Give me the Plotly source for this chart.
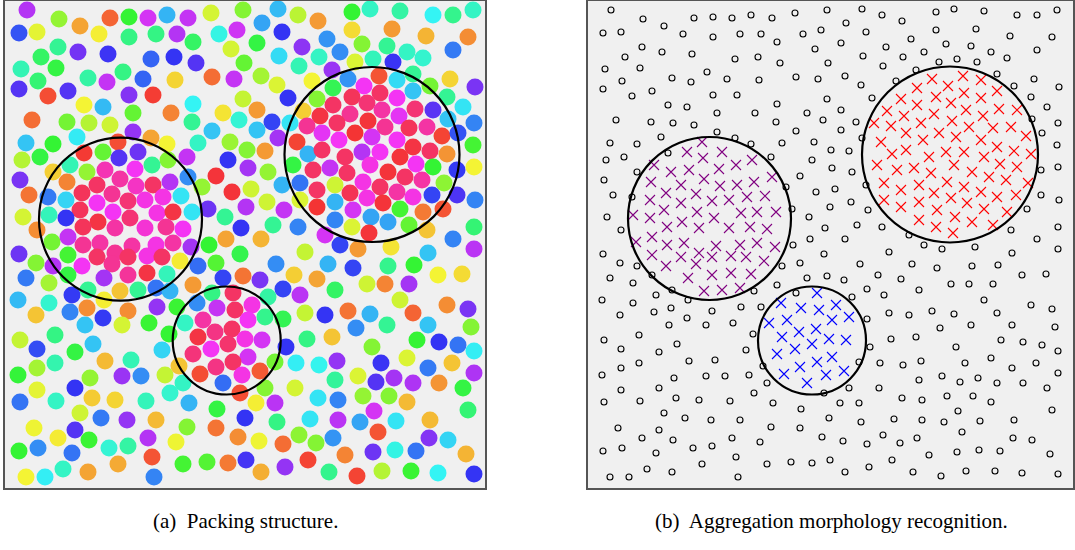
import numpy as np
import plotly.graph_objects as go

# Particle centres (shared by both panels) and their hue in degrees
x_pos = [
    27, 59, 80, 110, 129, 148, 19, 37, 99, 129, 156, 58, 41, 78, 108, 151, 21, 56, 88, 123,
    38, 107, 143, 19, 48, 68, 129, 153, 84, 103, 133, 32, 67, 89, 110, 133, 151, 26, 53, 77,
    118, 22, 40, 84, 103, 119, 138,
    167, 188, 211, 243, 278, 298, 318, 177, 193, 219, 237, 257, 262, 282, 231, 302, 174, 196, 244, 279,
    299, 319, 175, 212, 234, 261, 277, 312, 243, 288, 317, 193, 171, 223, 257, 303, 320, 192, 239, 272,
    290, 307, 212, 257, 278, 297, 167, 198, 230, 247, 265, 308, 187, 168, 228,
    352, 370, 400, 433, 453, 473, 352, 392, 426, 468, 327, 362, 387, 407, 453, 340, 355, 373, 393, 423,
    332, 348, 379, 397, 413, 450, 475, 333, 364, 380, 413, 430, 447, 352, 397, 333, 367, 382, 415, 433,
    463, 350, 368, 399, 337, 385, 409, 427, 448, 474, 322, 355, 372, 339, 397, 442, 458, 322, 362, 380,
    413, 430, 447, 473, 345, 400, 416,
    70, 53, 87, 105, 135, 152, 20, 67, 97, 120, 136, 153, 29, 48, 66, 82, 112, 128, 145, 97,
    49, 80, 113, 130, 157, 23, 66, 98, 83, 115, 145, 37, 52, 68, 83, 100, 132, 156, 115, 19,
    68, 36, 53, 97, 128, 147, 162, 82, 112, 26, 49, 68, 104, 128, 147, 18, 49, 72, 88, 104,
    120, 138, 156, 36, 70, 87, 103, 128, 157, 85, 122, 149,
    248, 268, 293, 313, 170, 188, 216, 202, 232, 251, 282, 300, 317, 163, 181, 208, 246, 267, 284, 300,
    317, 173, 192, 225, 241, 273, 298, 166, 183, 226, 261, 173, 191, 209, 240, 305, 180, 216, 198, 276,
    167, 223, 243, 260, 294, 317, 193, 212, 233, 268, 283, 300, 170, 197, 217, 235, 252, 283, 265, 305,
    325, 177, 203, 248, 185,
    330, 347, 370, 388, 405, 422, 433, 457, 474, 335, 363, 380, 397, 413, 444, 350, 432, 457, 475, 335,
    367, 383, 353, 400, 423, 443, 335, 371, 388, 352, 409, 427, 453, 474, 325, 369, 340, 358, 391, 474,
    428, 328, 353, 388, 414, 438, 462, 367, 385, 409, 335, 400, 348, 370, 413, 447, 468, 356, 387, 428,
    471,
    20, 55, 37, 75, 93, 162, 105, 131, 18, 37, 55, 90, 122, 141, 37, 75, 20, 56, 92, 115,
    146, 80, 101, 127, 156, 34, 75, 58, 89, 148, 19, 38, 72, 109, 128, 152, 26, 45, 63, 88,
    118, 154,
    169, 215, 232, 307, 198, 245, 262, 193, 211, 228, 248, 216, 233, 200, 242, 260, 223, 240, 275, 286,
    296, 319, 165, 179, 183, 170, 189, 265, 295, 256, 275, 318, 217, 245, 277, 310, 187, 216, 238, 259,
    283, 299, 316, 176, 183, 207, 228, 246, 261, 285, 308,
    332, 372, 417, 439, 458, 474, 337, 381, 407, 428, 452, 474, 335, 358, 376, 394, 413, 439, 463, 338,
    363, 389, 407, 468, 374, 338, 360, 396, 430, 378, 333, 429, 448, 345, 373, 395, 416, 466, 329, 357,
    382, 411, 438, 474,
]

y_pos = [
    10, 19, 26, 18, 17, 18, 33, 32, 34, 37, 34, 47, 57, 52, 54, 59, 69, 68, 78, 72,
    81, 82, 79, 89, 96, 91, 95, 95, 105, 107, 113, 120, 122, 123, 125, 132, 138, 143, 144, 137,
    142, 160, 157, 153, 152, 158, 152,
    15, 18, 13, 10, 9, 15, 21, 34, 42, 34, 30, 43, 23, 32, 49, 47, 57, 63, 63, 56,
    66, 57, 80, 77, 79, 76, 85, 81, 99, 98, 99, 104, 113, 113, 110, 111, 116, 122, 120, 122,
    123, 126, 131, 130, 138, 142, 144, 143, 142, 150, 151, 154, 157, 160, 160,
    12, 9, 11, 15, 15, 10, 30, 29, 36, 37, 39, 44, 46, 52, 50, 52, 62, 59, 62, 58,
    70, 79, 76, 80, 74, 79, 87, 88, 86, 93, 91, 86, 97, 97, 98, 105, 103, 110, 109, 110,
    107, 114, 121, 116, 123, 127, 128, 127, 119, 123, 133, 133, 137, 140, 140, 136, 133, 150, 152, 152,
    147, 151, 154, 145, 157, 157, 164,
    165, 172, 172, 170, 169, 165, 180, 182, 185, 179, 186, 185, 195, 197, 200, 193, 194, 201, 200, 203,
    215, 210, 212, 218, 213, 217, 218, 222, 227, 228, 228, 230, 242, 237, 245, 243, 246, 245, 253, 254,
    255, 263, 266, 257, 257, 256, 257, 266, 264, 278, 283, 275, 278, 275, 273, 300, 303, 295, 290, 300,
    291, 290, 288, 315, 312, 308, 318, 311, 307, 325, 325, 323,
    168, 172, 165, 170, 182, 177, 176, 187, 192, 189, 185, 183, 190, 197, 196, 209, 207, 202, 210, 200,
    207, 212, 212, 217, 228, 225, 227, 227, 229, 239, 239, 243, 247, 245, 254, 252, 261, 263, 266, 264,
    274, 278, 276, 280, 275, 279, 285, 293, 293, 297, 289, 295, 291, 303, 308, 310, 305, 319, 317, 313,
    315, 307, 320, 320, 323,
    168, 173, 165, 172, 177, 180, 167, 170, 167, 185, 182, 187, 192, 197, 183, 193, 195, 195, 200, 202,
    198, 203, 210, 209, 212, 209, 220, 217, 222, 227, 225, 230, 239, 227, 235, 233, 245, 249, 247, 249,
    253, 264, 268, 266, 265, 275, 274, 284, 284, 284, 290, 300, 311, 314, 313, 305, 309, 328, 325, 325,
    327,
    340, 335, 349, 352, 344, 350, 361, 360, 375, 368, 363, 378, 376, 376, 390, 388, 402, 401, 398, 400,
    401, 413, 418, 420, 420, 428, 430, 438, 440, 438, 451, 448, 453, 448, 446, 457, 477, 477, 469, 472,
    464, 477,
    334, 332, 329, 339, 337, 339, 340, 354, 349, 344, 357, 367, 362, 374, 375, 371, 383, 393, 362, 347,
    363, 365, 375, 366, 383, 393, 403, 388, 388, 403, 403, 398, 409, 418, 422, 419, 427, 428, 437, 441,
    444, 435, 443, 442, 464, 462, 463, 460, 472, 467, 460,
    337, 347, 340, 342, 345, 351, 361, 363, 358, 368, 363, 373, 380, 376, 382, 378, 383, 383, 388, 400,
    396, 396, 402, 410, 411, 420, 422, 421, 420, 432, 438, 438, 440, 455, 452, 450, 451, 454, 472, 476,
    471, 471, 473, 474,
]

hue = [
    280, 90, 35, 15, 120, 290, 230, 65, 58, 145, 145, 150, 135, 260, 243, 225, 160, 125, 155, 145,
    140, 285, 225, 250, 8, 250, 265, 3, 60, 198, 105, 18, 100, 80, 72, 270, 35, 195, 120, 183,
    8, 80, 125, 2, 105, 250, 258,
    200, 285, 70, 95, 198, 78, 32, 280, 135, 175, 288, 125, 205, 240, 70, 268, 240, 250, 105, 188,
    160, 165, 50, 18, 285, 85, 68, 60, 75, 240, 95, 180, 25, 55, 32, 48, 355, 150, 170, 235,
    185, 330, 195, 195, 275, 5, 60, 165, 88, 95, 32, 200, 285, 95, 240,
    120, 165, 155, 180, 148, 165, 52, 32, 40, 28, 210, 95, 150, 165, 218, 212, 68, 162, 242, 168,
    272, 210, 10, 188, 150, 50, 262, 130, 300, 345, 195, 100, 150, 348, 300, 345, 340, 325, 340, 252,
    185, 330, 358, 295, 345, 330, 348, 325, 195, 215, 295, 0, 290, 300, 300, 5, 230, 345, 280, 300,
    355, 345, 30, 115, 345, 358, 300,
    160, 48, 90, 320, 300, 150, 262, 25, 345, 325, 315, 345, 20, 218, 190, 348, 330, 340, 305, 300,
    162, 348, 300, 340, 305, 70, 240, 355, 348, 325, 310, 28, 100, 285, 330, 325, 325, 305, 330, 258,
    115, 95, 280, 345, 345, 305, 345, 300, 330, 218, 85, 125, 275, 328, 355, 198, 168, 238, 150, 58,
    45, 150, 220, 45, 215, 28, 238, 28, 270, 195, 70, 118,
    275, 90, 125, 345, 280, 212, 358, 90, 358, 72, 200, 220, 345, 305, 185, 258, 280, 72, 285, 68,
    0, 355, 185, 150, 240, 150, 215, 330, 300, 35, 40, 325, 275, 120, 128, 75, 57, 110, 222, 212,
    162, 235, 20, 262, 48, 35, 32, 145, 345, 155, 235, 282, 200, 212, 285, 345, 305, 130, 148, 75,
    240, 118, 325, 300, 165,
    285, 345, 305, 358, 345, 325, 120, 238, 60, 72, 305, 345, 325, 305, 92, 350, 235, 248, 215, 200,
    305, 358, 290, 115, 22, 10, 215, 205, 205, 68, 105, 45, 215, 140, 290, 358, 235, 32, 55, 282,
    195, 200, 235, 148, 120, 60, 52, 72, 25, 275, 135, 72, 20, 200, 15, 28, 262, 212, 150, 195,
    95,
    75, 145, 232, 125, 195, 190, 42, 160, 122, 85, 158, 90, 272, 212, 65, 240, 220, 165, 47, 50,
    162, 72, 218, 270, 42, 62, 250, 57, 118, 280, 120, 212, 220, 170, 155, 10, 60, 182, 165, 35,
    37, 215,
    120, 335, 345, 145, 355, 305, 290, 338, 300, 342, 290, 335, 345, 8, 305, 12, 222, 8, 100, 240,
    182, 178, 75, 45, 165, 168, 200, 95, 70, 58, 282, 185, 125, 240, 145, 185, 95, 20, 28, 62,
    18, 92, 95, 62, 115, 110, 22, 245, 38, 270, 5,
    45, 95, 120, 240, 220, 182, 270, 242, 68, 218, 45, 278, 152, 68, 250, 275, 278, 30, 125, 215,
    90, 95, 42, 140, 290, 282, 205, 185, 42, 10, 210, 265, 190, 25, 258, 175, 220, 40, 148, 5,
    80, 118, 180, 240,
]

# Hand-drawn aggregate outlines in panel (a)
ring_cx = [120.5, 372.0, 226.7]
ring_cy = [219.2, 154.5, 340.5]
ring_r = [81.5, 87.5, 54.0]

# Recognised aggregates in panel (b): centre, radius and marker colour
cluster_cx = [125.5, 366.0, 228.0]
cluster_cy = [218.5, 154.5, 340.5]
cluster_r = [81.5, 88.0, 54.0]
cluster_color = ["#800080", "#ff0000", "#0000ff"]

captions = ["(a)  Packing structure.", "(b)  Aggregation morphology recognition."]

px = np.array(x_pos, dtype=float)
py = np.array(y_pos, dtype=float)
hh = np.array(hue, dtype=float)

fig = go.Figure()

# Panel (a): coloured discs
fig.add_trace(go.Scatter(
    x=px, y=py, mode="markers",
    marker=dict(size=17, color=[f"hsl({h:.0f},90%,58%)" for h in hh], line=dict(width=0)),
    xaxis="x", yaxis="y", hoverinfo="skip", showlegend=False,
))

# Panel (b): members of each aggregate as crosses, the rest as open circles
label = np.full(len(px), -1)
for k in range(len(cluster_cx)):
    inside = np.hypot(px - cluster_cx[k], py - cluster_cy[k]) < cluster_r[k] - 4
    label[inside] = k

free = label < 0
fig.add_trace(go.Scatter(
    x=px[free], y=py[free], mode="markers",
    marker=dict(symbol="circle-open", size=6, color="black", line=dict(width=1.1)),
    xaxis="x2", yaxis="y2", hoverinfo="skip", showlegend=False,
))
for k in range(len(cluster_cx)):
    m = label == k
    fig.add_trace(go.Scatter(
        x=px[m], y=py[m], mode="markers",
        marker=dict(symbol="x-thin-open", size=10, color=cluster_color[k],
                    line=dict(width=1.1, color=cluster_color[k])),
        xaxis="x2", yaxis="y2", hoverinfo="skip", showlegend=False,
    ))

# Outline circles on both panels
shapes = []
for xr, yr, cxs, cys, rs in (("x", "y", ring_cx, ring_cy, ring_r),
                             ("x2", "y2", cluster_cx, cluster_cy, cluster_r)):
    for cx, cy, r in zip(cxs, cys, rs):
        shapes.append(dict(type="circle", xref=xr, yref=yr,
                           x0=cx - r, x1=cx + r, y0=cy - r, y1=cy + r,
                           line=dict(color="black", width=2.2)))

W, H = 1075, 550
axis_common = dict(showgrid=False, zeroline=False, showticklabels=False, ticks="",
                   showline=True, mirror=True, linecolor="#555555", linewidth=2)
cap_font = dict(family="Liberation Serif, Times New Roman, serif", size=21, color="black")
fig.update_layout(
    width=W, height=H,
    margin=dict(l=0, r=0, t=0, b=0),
    paper_bgcolor="white",
    plot_bgcolor="#f0f0f0",
    shapes=shapes,
    xaxis=dict(domain=[5 / W, 485 / W], range=[5, 485], **axis_common),
    yaxis=dict(domain=[(H - 488) / H, (H - 1) / H], range=[488, 1], **axis_common),
    xaxis2=dict(domain=[588 / W, 1073 / W], range=[4, 489], **axis_common),
    yaxis2=dict(domain=[(H - 488) / H, (H - 1) / H], range=[488, 1], anchor="x2", **axis_common),
    annotations=[
        dict(text=captions[0], x=245 / W, y=(H - 521) / H, xref="paper", yref="paper",
             xanchor="center", yanchor="middle", showarrow=False, font=cap_font),
        dict(text=captions[1], x=831 / W, y=(H - 521) / H, xref="paper", yref="paper",
             xanchor="center", yanchor="middle", showarrow=False, font=cap_font),
    ],
)

fig.write_html("out.html")
